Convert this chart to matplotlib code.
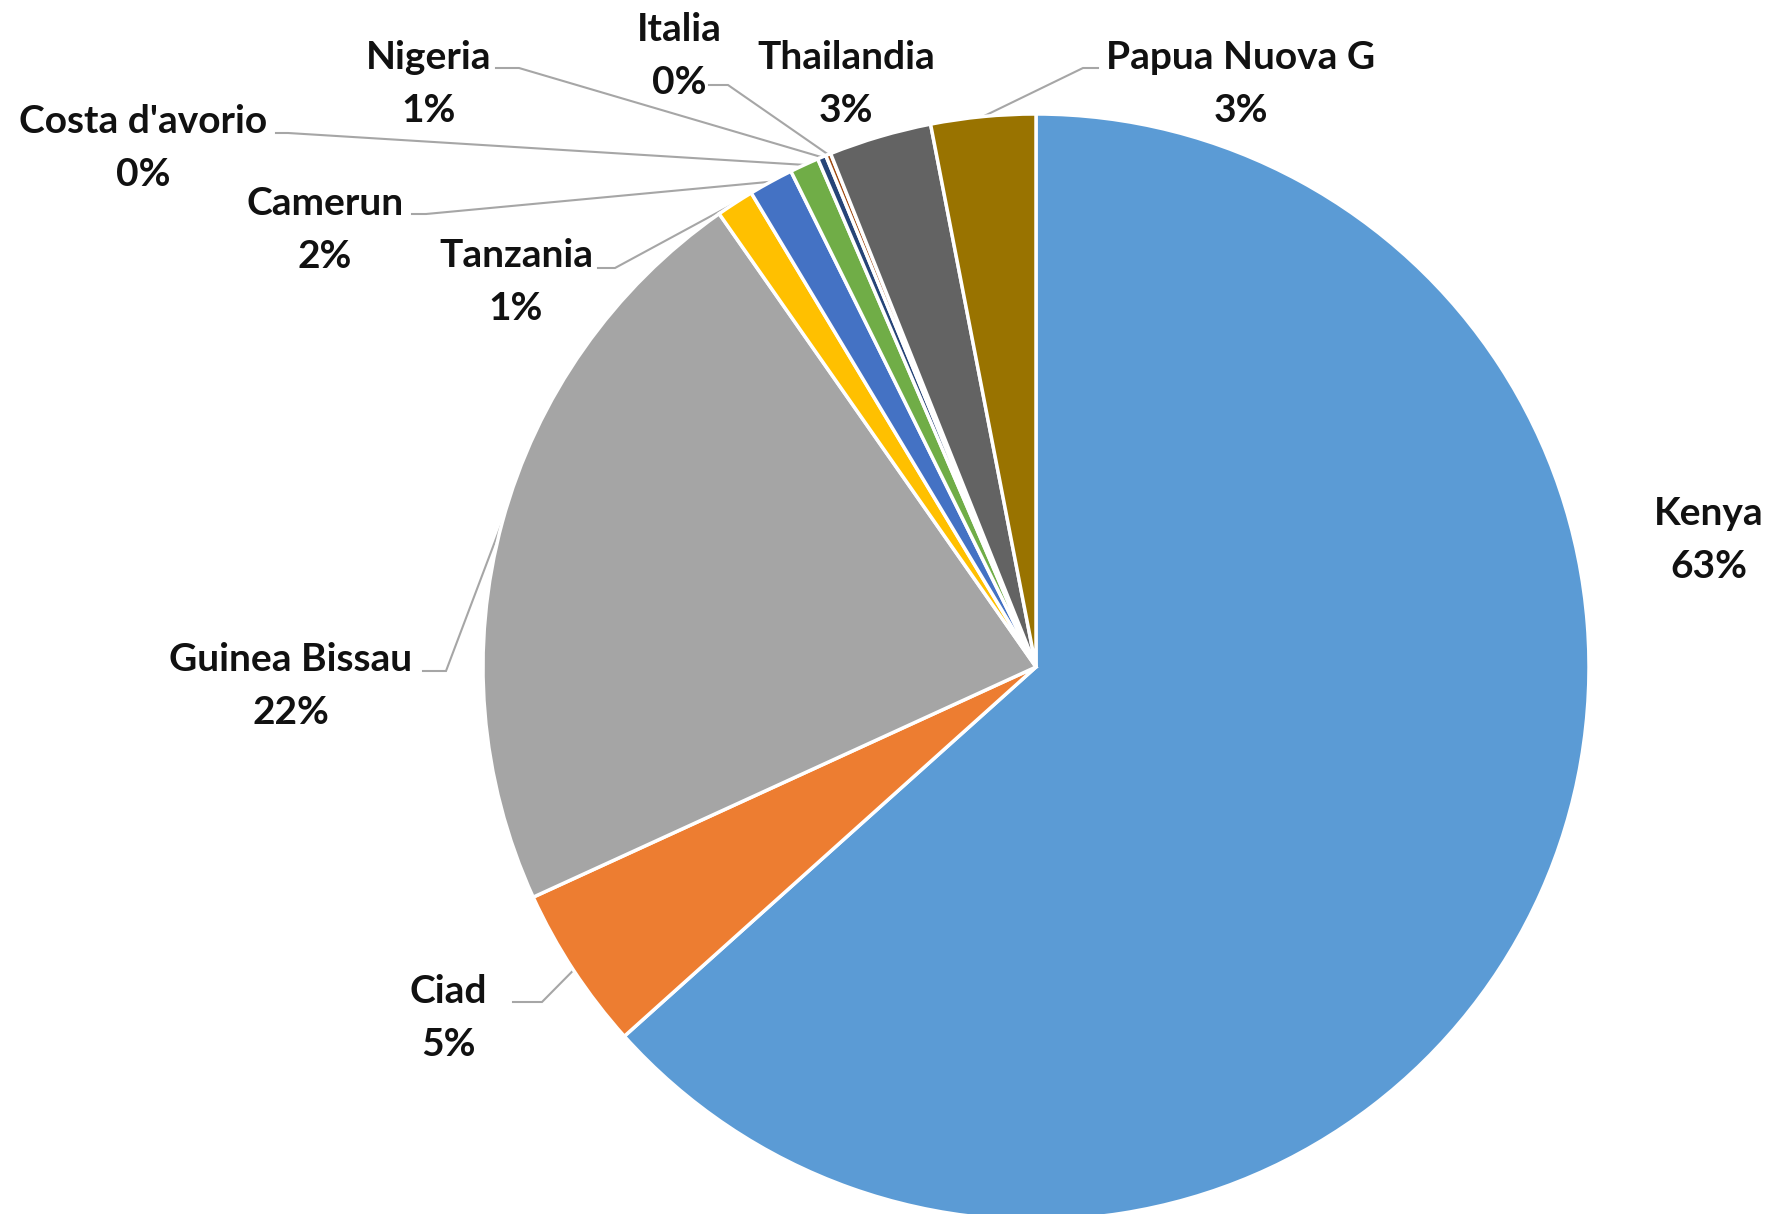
import matplotlib.pyplot as plt
import numpy as np

countries = ["Kenya", "Ciad", "Guinea Bissau", "Tanzania", "Camerun",
             "Costa d'avorio", "Nigeria", "Italia", "Thailandia", "Papua Nuova G"]
shares = [63.3, 4.8, 22.1, 1.1, 1.3, 0.85, 0.25, 0.15, 3.0, 3.05]
pct_labels = ["63%", "5%", "22%", "1%", "2%", "0%", "1%", "0%", "3%", "3%"]
colors = ["#5B9BD5", "#ED7D31", "#A5A5A5", "#FFC000", "#4472C4",
          "#70AD47", "#264478", "#9E480E", "#636363", "#997300"]

W, H = 1769, 1214

def px(x, y):
    # image pixel coords (y down) -> axes data coords (y up)
    return x, H - y

# label centre, leader start, leader elbow (pixels)
label_pos = {
    "Kenya": (1709, 540, None, None),
    "Ciad": (448, 1018, (513, 1002), (542, 1002)),
    "Guinea Bissau": (291, 686, (423, 671), (446, 671)),
    "Tanzania": (516, 282, (598, 268), (615, 268)),
    "Camerun": (325, 230, (412, 214), (426, 214)),
    "Costa d'avorio": (143, 148, (276, 133), (288, 133)),
    "Nigeria": (429, 84, (496, 68), (519, 68)),
    "Italia": (679, 56, (709, 85), (728, 85)),
    "Thailandia": (846, 84, None, None),
    "Papua Nuova G": (1241, 84, (1098, 68), (1083, 68)),
}

cx, cy = px(1036, 667)
R = 553

fig = plt.figure(figsize=(W / 100, H / 100), dpi=100)
ax = fig.add_axes([0, 0, 1, 1])
wedges, _ = ax.pie(shares, colors=colors, startangle=90, counterclock=False,
                   center=(cx, cy), radius=R,
                   wedgeprops=dict(edgecolor="white", linewidth=2.5))
ax.set_xlim(0, W)
ax.set_ylim(0, H)
ax.set_aspect("equal")
ax.axis("off")

for w, name, pct in zip(wedges, countries, pct_labels):
    lx, ly, start, elbow = label_pos[name]
    ax.text(*px(lx, ly), f"{name}\n{pct}", ha="center", va="center",
            fontsize=28, fontweight="bold", family=["Lato", "DejaVu Sans"],
            color="#111111", linespacing=1.6)
    if start is not None:
        mid = np.deg2rad((w.theta1 + w.theta2) / 2)
        ex, ey = cx + R * np.cos(mid), cy + R * np.sin(mid)
        sx, sy = px(*start)
        bx, by = px(*elbow)
        ax.plot([sx, bx, ex], [sy, by, ey], color="#A6A6A6", lw=1.5,
                solid_joinstyle="miter", zorder=0.5)

fig.savefig("out.png", dpi=100, facecolor="white")
